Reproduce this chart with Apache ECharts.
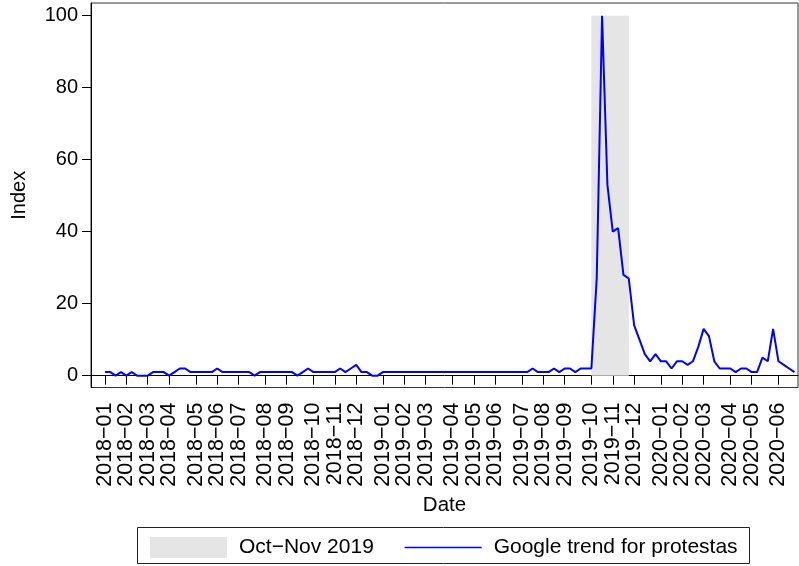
<!DOCTYPE html>
<html><head><meta charset="utf-8">
<script src="https://cdn.jsdelivr.net/npm/echarts@6/dist/echarts.min.js"></script>
<style>html,body{margin:0;padding:0;background:#fff}#c{width:799px;height:566px}</style>
</head><body><div id="c"></div>
<script>
// ---- data ----
const firstWeek = [2018, 0, 7];          // weekly observations (Sundays) from 2018-01-07
const trendValues = [
  1,1,0,1,0,1,0,0,0,1,
  1,1,0,1,2,2,1,1,1,1,
  1,2,1,1,1,1,1,1,0,1,
  1,1,1,1,1,1,0,1,2,1,
  1,1,1,1,2,1,2,3,1,1,
  0,0,1,1,1,1,1,1,1,1,
  1,1,1,1,1,1,1,1,1,1,
  1,1,1,1,1,1,1,1,1,1,
  2,1,1,1,2,1,2,2,1,2,
  2,2,27,100,53,40,41,28,27,14,
  10,6,4,6,4,4,2,4,4,3,
  4,8,13,11,4,2,2,2,1,2,
  2,1,1,5,4,13,4,3,2,1
];
const shadeStart = '2019-10-06';
const shadeEnd = '2019-11-24';
const shadeTop = 100;
const yTicks = [0, 20, 40, 60, 80, 100];
const tickLabels = [
  '2018−01','2018−02','2018−03','2018−04','2018−05','2018−06','2018−07','2018−08','2018−09','2018−10','2018−11','2018−12',
  '2019−01','2019−02','2019−03','2019−04','2019−05','2019−06','2019−07','2019−08','2019−09','2019−10','2019−11','2019−12',
  '2020−01','2020−02','2020−03','2020−04','2020−05','2020−06'
];
const seriesNames = ['Oct−Nov 2019', 'Google trend for protestas'];

// ---- build ----
const DAY = 86400000;
const t0 = Date.UTC(firstWeek[0], firstWeek[1], firstWeek[2]);
const weekDates = trendValues.map((v, i) => t0 + i * 7 * DAY);
const fmt = t => { const d = new Date(t); return d.getUTCFullYear() + '−' + String(d.getUTCMonth() + 1).padStart(2, '0'); };
const tickValues = tickLabels.map(l => weekDates.find(t => fmt(t) === l));
const evenTicks = tickValues.filter((v, i) => i % 2 === 0);
const oddTicks = tickValues.filter((v, i) => i % 2 === 1);
const lineData = weekDates.map((t, i) => [t, trendValues[i]]);
const toT = s => { const p = s.split('-'); return Date.UTC(+p[0], +p[1] - 1, +p[2]); };
const shadeData = [[toT(shadeStart), shadeTop], [toT(shadeEnd), shadeTop]];

const FONT = 'Liberation Sans, Arial, Helvetica, sans-serif';
const xMin = t0 - 18.3 * DAY;
const xMax = weekDates[weekDates.length - 1] + 4.6 * DAY;
const xLabelBase = {show: true, rotate: 90, margin: 15, fontSize: 21.5, color: '#000', fontFamily: FONT,
  formatter: v => fmt(v), hideOverlap: false, showMinLabel: true, showMaxLabel: true};

const chart = echarts.init(document.getElementById('c'), null, {renderer: 'canvas'});
chart.setOption({
  animation: false,
  backgroundColor: '#fff',
  grid: {left: 91, top: 3, right: 1, bottom: 178.5, show: true, borderColor: '#333', borderWidth: 1, containLabel: false, outerBoundsMode: 'none'},
  xAxis: [{
    type: 'value', min: xMin, max: xMax, position: 'bottom',
    name: 'Date', nameLocation: 'middle', nameGap: 102,
    nameTextStyle: {fontSize: 20.5, color: '#000', fontFamily: FONT},
    axisLine: {show: true, lineStyle: {color: '#000', width: 1}},
    axisTick: {show: true, length: 9, customValues: tickValues, lineStyle: {color: '#000'}},
    axisLabel: Object.assign({}, xLabelBase, {customValues: evenTicks}),
    splitLine: {show: false}, minorTick: {show: false}
  }, {
    type: 'value', min: xMin, max: xMax, position: 'bottom', offset: 0,
    axisLine: {show: false}, axisTick: {show: false},
    axisLabel: Object.assign({}, xLabelBase, {customValues: oddTicks}),
    splitLine: {show: false}, minorTick: {show: false}
  }],
  yAxis: {
    type: 'value', min: -3.28, max: 103.53,
    name: 'Index', nameLocation: 'middle', nameGap: 62, nameRotate: 90,
    nameTextStyle: {fontSize: 20, color: '#000', fontFamily: FONT},
    axisLine: {show: true, lineStyle: {color: '#000', width: 1}},
    axisTick: {show: true, length: 9, customValues: yTicks, lineStyle: {color: '#000'}},
    axisLabel: {show: true, margin: 13, fontSize: 20, color: '#000', fontFamily: FONT, customValues: yTicks},
    splitLine: {show: false}
  },
  legend: {
    left: 145, top: 532, itemWidth: 77, itemHeight: 21, itemGap: 30, selectedMode: false,
    textStyle: {fontSize: 21, color: '#000', fontFamily: FONT, padding: [0, 0, 0, 7]},
    data: [
      {name: seriesNames[0], icon: 'rect', itemStyle: {color: '#e5e5e5', borderWidth: 0}},
      {name: seriesNames[1], itemStyle: {opacity: 0}, lineStyle: {color: '#0000ff', width: 1.6}}
    ]
  },
  graphic: [{
    type: 'rect', shape: {x: 137.5, y: 527.5, width: 612, height: 36},
    style: {fill: 'none', stroke: '#222', lineWidth: 1}, silent: true
  }],
  series: [
    {name: seriesNames[0], type: 'line', data: shadeData, symbol: 'none', z: 1, xAxisIndex: 0,
      itemStyle: {color: '#e5e5e5'}, lineStyle: {width: 0, color: '#e5e5e5'},
      areaStyle: {color: '#e5e5e5', opacity: 1}, silent: true},
    {name: seriesNames[1], type: 'line', data: lineData, symbol: 'none', showSymbol: false, z: 3, xAxisIndex: 0,
      itemStyle: {color: '#0000ff'}, lineStyle: {width: 2, color: '#0000ff'}, silent: true}
  ]
});
</script></body></html>
